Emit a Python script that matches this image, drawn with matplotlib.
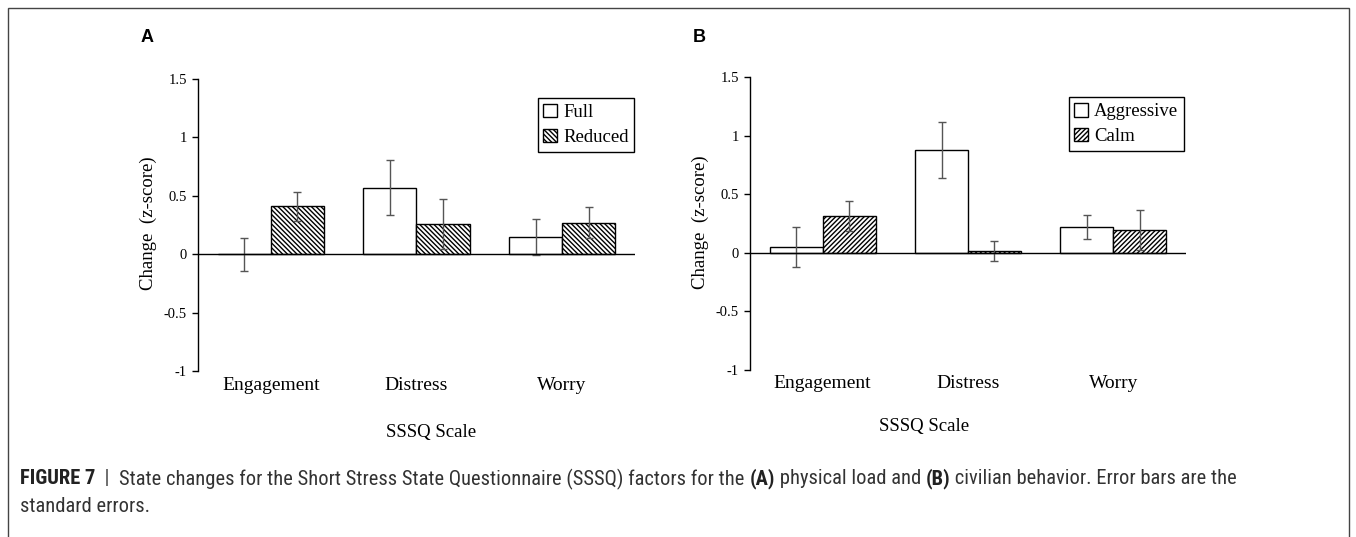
import matplotlib
matplotlib.use('Agg')
import matplotlib.pyplot as plt
import numpy as np
from matplotlib.patches import Rectangle
from matplotlib import font_manager

# ---------------- data ----------------
categories = ['Engagement', 'Distress', 'Worry']

a_series = ['Full', 'Reduced']
a_full = [0.00, 0.57, 0.15]
a_full_se = [0.14, 0.235, 0.155]
a_reduced = [0.41, 0.26, 0.27]
a_reduced_se = [0.125, 0.215, 0.135]

b_series = ['Aggressive', 'Calm']
b_aggr = [0.05, 0.88, 0.22]
b_aggr_se = [0.17, 0.24, 0.10]
b_calm = [0.315, 0.017, 0.195]
b_calm_se = [0.13, 0.085, 0.17]

yticks = [-1, -0.5, 0, 0.5, 1, 1.5]
ytick_labels = ['-1', '-0.5', '0', '0.5', '1', '1.5']

ylabel = 'Change  (z-score)'
xlabel = 'SSSQ Scale'

# ---------------- style ----------------
W, H = 1356, 537
plt.rcParams['hatch.color'] = 'black'
plt.rcParams['hatch.linewidth'] = 1.0
SERIF = ['Liberation Serif', 'DejaVu Serif']
avail = {f.name for f in font_manager.fontManager.ttflist}
CAP_FONT = [f for f in ['Liberation Sans Narrow', 'Roboto Condensed', 'Liberation Sans'] if f in avail] + ['DejaVu Sans']

fig = plt.figure(figsize=(W / 100, H / 100), dpi=100)


def px_axes(l, t, r, b):
    return [l / W, 1 - b / H, (r - l) / W, (b - t) / H]


def panel(rect, v1, s1, v2, s2, names, hatch, leg_anchor, tick_pad):
    ax = fig.add_axes(rect)
    x = np.arange(len(categories))
    w = 0.364
    ax.bar(x - w / 2, v1, w, facecolor='white', edgecolor='black', linewidth=1, label=names[0], zorder=2)
    ax.bar(x + w / 2, v2, w, facecolor='white', edgecolor='black', linewidth=1, hatch=hatch,
           label=names[1], zorder=2)
    ax.errorbar(x - w / 2, v1, yerr=s1, fmt='none', ecolor='#555555', elinewidth=1, capsize=3,
                capthick=1, zorder=3)
    ax.errorbar(x + w / 2, v2, yerr=s2, fmt='none', ecolor='#555555', elinewidth=1, capsize=3,
                capthick=1, zorder=3)
    ax.axhline(0, color='black', linewidth=1, zorder=4)
    ax.set_xlim(-0.5, 2.5)
    ax.set_ylim(-1, 1.5)
    for s in ['top', 'right', 'bottom']:
        ax.spines[s].set_visible(False)
    ax.spines['left'].set_linewidth(1)
    ax.set_yticks(yticks)
    ax.set_yticklabels(ytick_labels, family=SERIF, fontsize=10.5)
    ax.tick_params(axis='y', length=4, width=1, pad=4, direction='out')
    ax.set_xticks(x)
    ax.set_xticklabels(categories, family=SERIF, fontsize=14)
    ax.tick_params(axis='x', length=0, pad=tick_pad)
    leg = ax.legend(loc='upper right', bbox_to_anchor=leg_anchor, frameon=True, fancybox=False,
                    edgecolor='black', framealpha=1, borderaxespad=0, handlelength=0.75,
                    handleheight=0.75, handletextpad=0.3, labelspacing=0.4, borderpad=0.3,
                    prop={'family': SERIF, 'size': 13.5})
    leg.get_frame().set_linewidth(1)
    return ax


axA = panel(px_axes(198, 79, 635, 371), a_full, a_full_se, a_reduced, a_reduced_se,
            a_series, '\\' * 7, (0.998, 0.935), 4.5)
axB = panel(px_axes(750, 77, 1186, 370), b_aggr, b_aggr_se, b_calm, b_calm_se,
            b_series, '/' * 7, (0.995, 0.931), 3.5)

# axis titles
fig.text(148 / W, 1 - 223 / H, ylabel, rotation=90, ha='center', va='center', family=SERIF, fontsize=13.5)
fig.text(700 / W, 1 - 222 / H, ylabel, rotation=90, ha='center', va='center', family=SERIF, fontsize=13.5)
fig.text(431 / W, 1 - 433 / H, xlabel, ha='center', va='center', family=SERIF, fontsize=13.5)
fig.text(924 / W, 1 - 427 / H, xlabel, ha='center', va='center', family=SERIF, fontsize=13.5)

# panel letters
fig.text(147 / W, 1 - 38 / H, 'A', ha='center', va='center', family=['Liberation Sans', 'DejaVu Sans'],
         fontweight='bold', fontsize=13)
fig.text(699 / W, 1 - 37 / H, 'B', ha='center', va='center', family=['Liberation Sans', 'DejaVu Sans'],
         fontweight='bold', fontsize=13)

# border
fig.add_artist(Rectangle((8 / W, -0.02), (1349 - 8) / W, (537 - 8) / H + 0.02, transform=fig.transFigure,
                         fill=False, edgecolor='#444444', linewidth=1))

# caption
line1 = [('FIGURE 7', 'bold', '#222222'), ('  |  ', 'normal', '#444444'),
         ('State changes for the Short Stress State Questionnaire (SSSQ) factors for the ', 'normal', '#333333'),
         ('(A)', 'bold', '#222222'), (' physical load and ', 'normal', '#333333'),
         ('(B)', 'bold', '#222222'), (' civilian behavior. Error bars are the', 'normal', '#333333')]
line2 = [('standard errors.', 'normal', '#333333')]

renderer = fig.canvas.get_renderer()


def place(pieces, x0, y, fs, draw=True):
    x = x0
    arts = []
    for txt, wgt, col in pieces:
        t = fig.text(x / W, 1 - y / H, txt, ha='left', va='center', family=CAP_FONT,
                     fontweight=wgt, fontsize=fs, color=col)
        bb = t.get_window_extent(renderer)
        x += bb.width
        arts.append(t)
    if not draw:
        for a in arts:
            a.remove()
    return x - x0


target = 1234 - 20
fs = 11
wid = place(line1, 20, 479, fs, draw=False)
fs = fs * target / wid
place(line1, 20, 479, fs)
place(line2, 20, 506, fs)

fig.savefig('out.png', dpi=100)
